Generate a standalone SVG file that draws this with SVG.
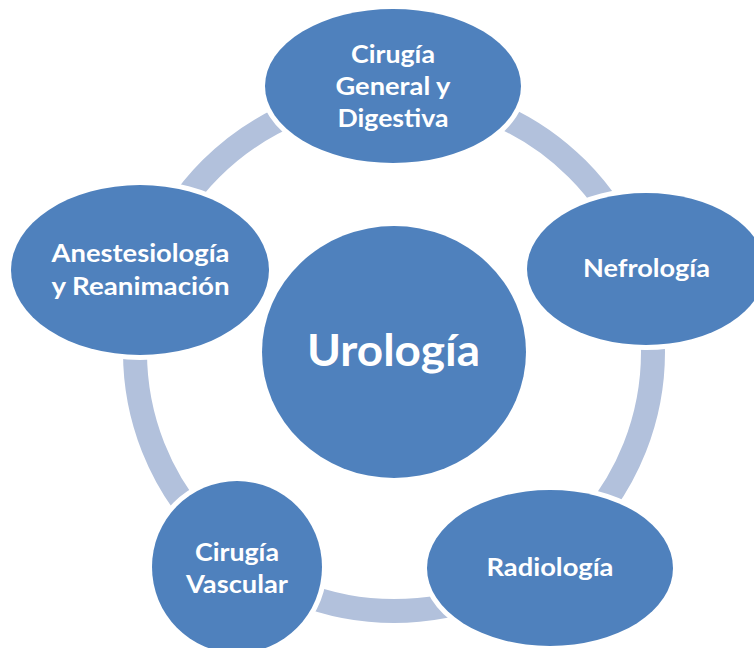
<svg xmlns="http://www.w3.org/2000/svg" width="754" height="648" viewBox="0 0 754 648">
  <style>
    .node { fill: #4F81BD; stroke: #FFFFFF; stroke-width: 10; paint-order: stroke; }
    .lbl { font-family: Lato, "Open Sans", "Liberation Sans", sans-serif; font-weight: 700; font-size: 25px; fill: #FFFFFF; text-anchor: middle; }
    .big { font-size: 44px; }
    .ring { fill: none; stroke: #B2C1DC; stroke-width: 24; }
  </style>
  <rect width="754" height="648" fill="#FFFFFF"/>
  <g id="connectors">
    <circle class="ring" cx="394" cy="352" r="259"/>
  </g>
  <g id="node-urologia">
    <ellipse cx="394" cy="352" rx="132" ry="126" fill="#4F81BD"/>
    <text class="lbl big" x="393.5" y="366" textLength="173" lengthAdjust="spacingAndGlyphs">Urología</text>
  </g>
  <g id="node-cirugia-general">
    <ellipse class="node" cx="393" cy="86" rx="128" ry="77"/>
    <text class="lbl" x="393" y="63" textLength="84" lengthAdjust="spacingAndGlyphs">Cirugía</text>
    <text class="lbl" x="393" y="95" textLength="115" lengthAdjust="spacingAndGlyphs">General y</text>
    <text class="lbl" x="393" y="127" textLength="111" lengthAdjust="spacingAndGlyphs">Digestiva</text>
  </g>
  <g id="node-nefrologia">
    <ellipse class="node" cx="646" cy="269" rx="119" ry="76"/>
    <text class="lbl" x="646.5" y="277" textLength="127" lengthAdjust="spacingAndGlyphs">Nefrología</text>
  </g>
  <g id="node-radiologia">
    <ellipse class="node" cx="550" cy="568" rx="123" ry="78"/>
    <text class="lbl" x="550" y="576" textLength="127" lengthAdjust="spacingAndGlyphs">Radiología</text>
  </g>
  <g id="node-cirugia-vascular">
    <ellipse class="node" cx="237" cy="567" rx="85" ry="86"/>
    <text class="lbl" x="237" y="561" textLength="84" lengthAdjust="spacingAndGlyphs">Cirugía</text>
    <text class="lbl" x="237" y="593" textLength="102" lengthAdjust="spacingAndGlyphs">Vascular</text>
  </g>
  <g id="node-anestesiologia">
    <ellipse class="node" cx="140" cy="270" rx="129" ry="85"/>
    <text class="lbl" x="140.5" y="262" textLength="178" lengthAdjust="spacingAndGlyphs">Anestesiología</text>
    <text class="lbl" x="140.5" y="295" textLength="178" lengthAdjust="spacingAndGlyphs">y Reanimación</text>
  </g>
</svg>
